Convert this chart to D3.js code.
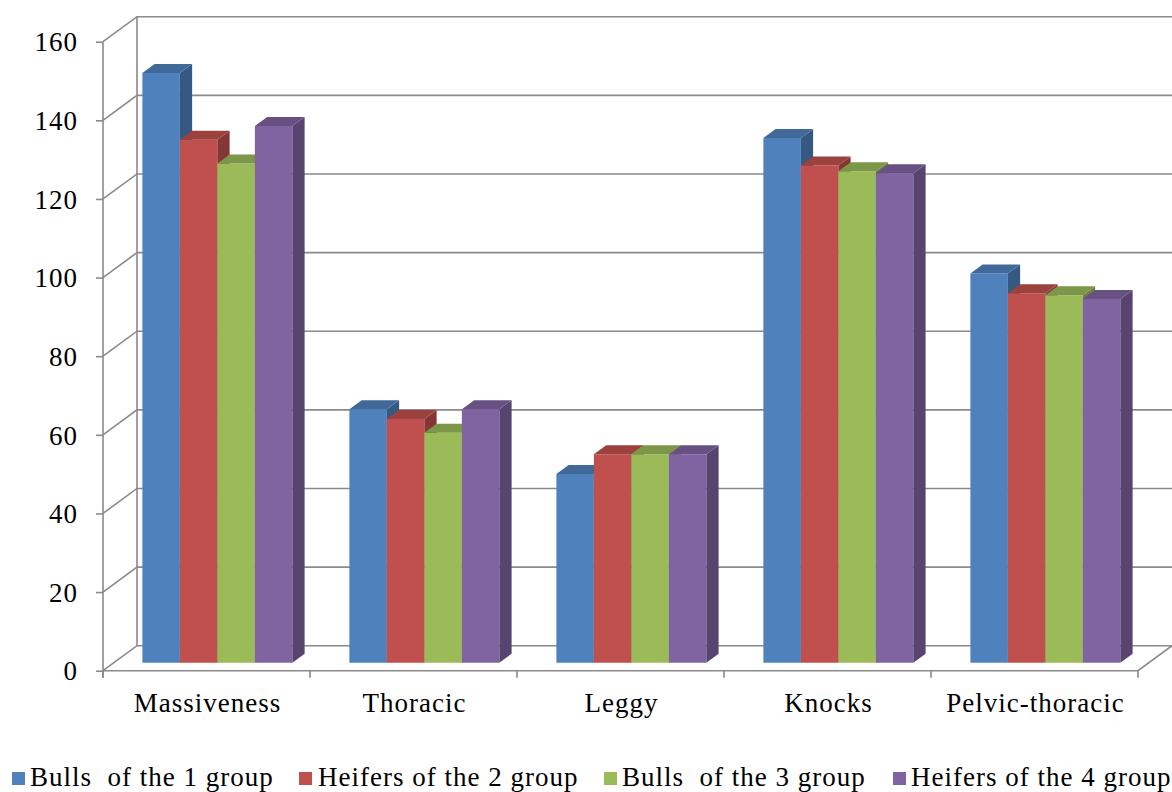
<!DOCTYPE html>
<html>
<head>
<meta charset="utf-8">
<script src="https://cdn.jsdelivr.net/npm/d3@7"></script>
<style>
  html, body { margin: 0; padding: 0; background: #ffffff; }
  svg { display: block; }
  text { font-family: "Liberation Serif", "Times New Roman", serif; fill: #000; }
</style>
</head>
<body>
<svg id="chart" width="1172" height="792"></svg>
<script>
// Body-type indices per group
const categories = ["Massiveness", "Thoracic", "Leggy", "Knocks", "Pelvic-thoracic"];
const seriesNames = ["Bulls  of the 1 group", "Heifers of the 2 group", "Bulls  of the 3 group", "Heifers of the 4 group"];
const bulls1   = [150, 64.5, 48, 133.5, 99];
const heifers2 = [133, 62, 53, 126.5, 94];
const bulls3   = [127, 58.5, 53, 125, 93.5];
const heifers4 = [136.5, 64.5, 53, 124.5, 92.5];
const yTicks = [0, 20, 40, 60, 80, 100, 120, 140, 160];
const colors = ["#4F81BD", "#C0504D", "#9BBB59", "#8064A2"];

const seriesValues = [bulls1, heifers2, bulls3, heifers4];

const svg = d3.select("#chart");
const FONT_SIZE = 27, SPACING = 1.0;

// Oblique 3D layout: front plane of the plot box and its depth offset
const plotLeft = 103, plotRight = 1138, plotTop = 41.7, plotBottom = 670.7;
const DX = 34, DY = -25;            // full depth of the floor / side wall
const f0 = 0.32, f1 = 0.68;         // bars sit between these depth fractions

const y = d3.scaleLinear().domain([0, 160]).range([plotBottom, plotTop]);
const x = d3.scaleBand().domain(categories).range([plotLeft, plotRight]);
const xs = d3.scaleBand().domain(d3.range(seriesNames.length))
  .range([0, x.bandwidth()]).paddingOuter(0.76).paddingInner(0);

const gridColor = "#8a8a8a";
const grid = svg.append("g").attr("fill", "none").attr("stroke", gridColor).attr("stroke-width", 1.6);

// Side-wall and back-wall gridlines
yTicks.forEach(t => {
  const yy = y(t);
  grid.append("path")
    .attr("d", `M${plotLeft},${yy}L${plotLeft + DX},${yy + DY}L${plotRight + DX},${yy + DY}`);
});
// Back-left corner edge of the walls
grid.append("line")
  .attr("x1", plotLeft + DX).attr("y1", y(160) + DY)
  .attr("x2", plotLeft + DX).attr("y2", y(0) + DY);
// Floor front edge and right edge
grid.append("path")
  .attr("d", `M${plotLeft},${y(0)}L${plotRight},${y(0)}L${plotRight + DX},${y(0) + DY}`);

// Value axis with ticks on the front-left edge
const yAxis = svg.append("g").attr("transform", `translate(${plotLeft},0)`)
  .call(d3.axisLeft(y).tickValues(yTicks).tickSize(7).tickPadding(18).tickFormat(d3.format("d")));
yAxis.select(".domain").attr("stroke", gridColor).attr("stroke-width", 1.6)
  .attr("d", `M0,${y(160)}V${y(0) + 7}`);
yAxis.selectAll(".tick line").attr("stroke", gridColor).attr("stroke-width", 1.6);
yAxis.selectAll(".tick text")
  .attr("font-size", FONT_SIZE).attr("letter-spacing", SPACING)
  .attr("font-family", "Liberation Serif, Times New Roman, serif")
  .attr("fill", "#000")
  .attr("dy", "0.34em");

// Category axis ticks between the groups
const catTicks = categories.map(c => x(c)).concat([plotRight]);
svg.append("g").selectAll("line").data(catTicks).join("line")
  .attr("x1", d => d).attr("x2", d => d)
  .attr("y1", y(0)).attr("y2", y(0) + 7)
  .attr("stroke", gridColor).attr("stroke-width", 1.6);

svg.append("g").selectAll("text").data(categories).join("text")
  .attr("x", d => x(d) + x.bandwidth() / 2 + 1)
  .attr("y", 712)
  .attr("text-anchor", "middle")
  .attr("font-size", FONT_SIZE).attr("letter-spacing", SPACING)
  .text(d => d);

// 3D columns, drawn left to right so nearer faces overlap correctly
const bars = svg.append("g");
const bx0 = DX * f0, by0 = DY * f0;
const bdx = DX * (f1 - f0), bdy = DY * (f1 - f0);

categories.forEach((c, ci) => {
  seriesValues.forEach((vals, si) => {
    const v = vals[ci];
    const xl = x(c) + xs(si) + bx0;
    const xr = xl + xs.bandwidth();
    const yt = y(v) + by0;
    const yb = y(0) + by0;
    const base = d3.color(colors[si]);
    const g = bars.append("g");
    // front face
    g.append("path")
      .attr("d", `M${xl},${yb}L${xl},${yt}L${xr},${yt}L${xr},${yb}Z`)
      .attr("fill", base.formatHex());
    // right side face
    g.append("path")
      .attr("d", `M${xr},${yb}L${xr},${yt}L${xr + bdx},${yt + bdy}L${xr + bdx},${yb + bdy}Z`)
      .attr("fill", base.darker(1.05).formatHex());
    // top face
    g.append("path")
      .attr("d", `M${xl},${yt}L${xr},${yt}L${xr + bdx},${yt + bdy}L${xl + bdx},${yt + bdy}Z`)
      .attr("fill", base.darker(0.6).formatHex());
  });
});

// Legend along the bottom
const legendPos = [
  { sx: 12, tx: 30 },
  { sx: 299, tx: 318 },
  { sx: 604, tx: 622 },
  { sx: 893, tx: 911 }
];
const legend = svg.append("g");
seriesNames.forEach((name, i) => {
  legend.append("rect")
    .attr("x", legendPos[i].sx).attr("y", 772)
    .attr("width", 13).attr("height", 13)
    .attr("fill", colors[i]);
  legend.append("text")
    .attr("x", legendPos[i].tx).attr("y", 786)
    .attr("font-size", FONT_SIZE).attr("letter-spacing", SPACING)
    .attr("xml:space", "preserve")
    .style("white-space", "pre")
    .text(name);
});
</script>
</body>
</html>
